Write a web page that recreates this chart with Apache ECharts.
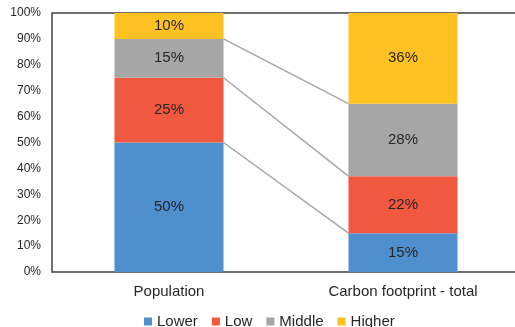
<!DOCTYPE html>
<html>
<head>
<meta charset="utf-8">
<script src="https://cdn.jsdelivr.net/npm/echarts@6/dist/echarts.min.js"></script>
<style>
  html, body { margin: 0; padding: 0; background: #fff; }
  #chart { width: 515px; height: 327px; }
</style>
</head>
<body>
<div id="chart"></div>
<script>
// Share of each income group, in percent
const categories = ['Population', 'Carbon footprint - total'];
const groups = ['Lower', 'Low', 'Middle', 'Higher'];
const lower = [50, 15];
const low = [25, 22];
const middle = [15, 28];
const higher = [10, 36];
const yTicks = [0, 10, 20, 30, 40, 50, 60, 70, 80, 90, 100];

const colors = ['#4F8FCD', '#F05840', '#A6A6A6', '#FFC222'];
const groupValues = [lower, low, middle, higher];
const barRatio = 0.466;

// Cumulative tops of the first three groups, for the connector lines
function cumulative(ci) {
  const out = [];
  let s = 0;
  for (let g = 0; g < 3; g++) { s += groupValues[g][ci]; out.push(s); }
  return out;
}
const popTops = cumulative(0);
const carbonTops = cumulative(1);
const connectors = popTops.map((v, i) => [0, v, 1, carbonTops[i]]);

const font = '"Liberation Sans", Arial, sans-serif';

const barSeries = groups.map((name, g) => ({
  name: name,
  type: 'bar',
  stack: 'total',
  barWidth: (barRatio * 100) + '%',
  data: groupValues[g],
  itemStyle: { color: colors[g] },
  label: {
    show: true,
    position: 'inside',
    formatter: '{c}%',
    color: '#262626',
    fontFamily: font,
    fontSize: 15
  },
  z: 3
}));

const chart = echarts.init(document.getElementById('chart'), null, { renderer: 'canvas' });
chart.setOption({
  animation: false,
  textStyle: { fontFamily: font },
  grid: {
    left: 52, right: -5, top: 13, bottom: 55,
    outerBoundsMode: 'none',
    containLabel: false,
    show: true, borderColor: '#404040', borderWidth: 1.5, backgroundColor: 'transparent'
  },
  legend: {
    data: groups,
    left: 139,
    top: 309,
    icon: 'rect',
    itemWidth: 8,
    itemHeight: 8,
    itemGap: 14,
    textStyle: { fontFamily: font, fontSize: 15, color: '#262626' }
  },
  xAxis: {
    type: 'category',
    data: categories,
    axisLine: { show: false },
    axisTick: { show: false },
    axisLabel: { color: '#262626', fontSize: 15, fontFamily: font, margin: 12 }
  },
  yAxis: {
    type: 'value',
    min: yTicks[0],
    max: yTicks[yTicks.length - 1],
    interval: 10,
    axisLine: { show: false },
    axisTick: { show: false },
    splitLine: { show: false },
    axisLabel: { formatter: '{value}%', color: '#262626', fontSize: 12, fontFamily: font, margin: 11 }
  },
  series: barSeries.concat([{
    type: 'custom',
    name: 'connectors',
    data: connectors,
    encode: { x: 0, y: 1 },
    z: 2,
    silent: true,
    renderItem: function (params, api) {
      const p1 = api.coord([api.value(0), api.value(1)]);
      const p2 = api.coord([api.value(2), api.value(3)]);
      const half = api.size([1, 0])[0] * barRatio / 2;
      return {
        type: 'line',
        shape: { x1: p1[0] + half, y1: p1[1], x2: p2[0] - half, y2: p2[1] },
        style: { stroke: '#A6A6A6', lineWidth: 1.5 }
      };
    }
  }])
});
</script>
</body>
</html>
